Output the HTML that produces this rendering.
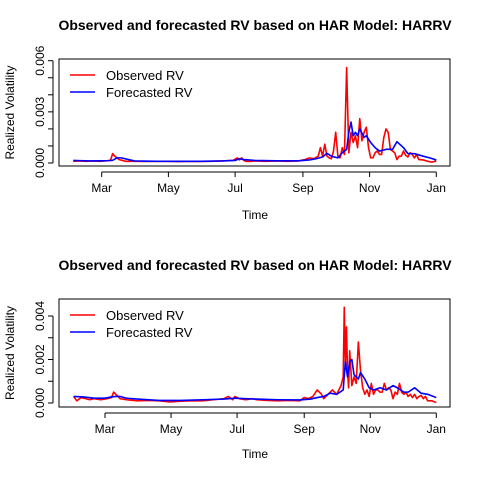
<!DOCTYPE html>
<html><head><meta charset="utf-8"><style>
body{margin:0;background:#fff;font-family:"Liberation Sans",Arial,sans-serif}
svg text{font-family:"Liberation Sans",Arial,sans-serif}
</style></head><body>
<svg id="c" width="480" height="480" xmlns="http://www.w3.org/2000/svg"></svg>
<script>
// x values: day of year; y values: realized volatility
const monthLabels=["Mar","May","Jul","Sep","Nov","Jan"];
const monthDays=[60,121,182,244,305,366];
// Panel 1
const obsDays1=[34,40,46,52,58,64,68,70,72,76,82,90,100,110,120,130,140,150,160,170,180,184,186,188,190,192,196,200,210,220,230,240,246,250,254,258,260,262,264,266,268,270,272,274,276,278,280,282,284,286,288,290,292,294,296,298,300,302,304,306,308,310,312,314,316,318,320,322,324,326,328,330,332,334,336,338,340,342,344,346,348,350,354,358,362,366];
const obsVals1=[0.0001,0.00012,0.0001,0.00012,0.0001,0.00013,0.00015,0.00055,0.0004,0.0002,0.0001,0.0001,0.00009,0.0001,0.0001,0.00008,0.0001,0.00009,0.0001,0.00012,0.00015,0.0003,0.00018,0.0003,0.00015,0.0001,0.00009,0.00012,0.0001,0.00012,0.0001,0.00012,0.0002,0.0003,0.00025,0.0004,0.0009,0.0004,0.0011,0.0004,0.0003,0.00025,0.0007,0.0018,0.0004,0.0003,0.0009,0.0005,0.0056,0.0006,0.0018,0.0012,0.0016,0.0009,0.0026,0.0013,0.0018,0.0021,0.0009,0.0003,0.0003,0.0006,0.0007,0.0005,0.0005,0.0015,0.0020,0.0018,0.0008,0.0007,0.0006,0.0002,0.0004,0.0004,0.0007,0.00045,0.00035,0.0006,0.0005,0.0003,0.0005,0.0002,0.00018,0.0001,0.00005,0.00012];
const fcDays1=[34,40,50,60,66,70,74,78,90,110,130,150,170,182,186,190,200,220,240,250,256,262,266,270,276,280,284,286,288,290,292,294,296,300,302,306,310,314,320,326,330,336,340,346,354,360,366];
const fcVals1=[0.00015,0.00014,0.00012,0.00013,0.00014,0.00016,0.0003,0.0003,0.00012,0.0001,0.0001,0.0001,0.00012,0.00015,0.00025,0.0002,0.00015,0.00013,0.00013,0.00018,0.00025,0.00035,0.00057,0.0004,0.0003,0.0006,0.0008,0.0018,0.0024,0.0016,0.0018,0.0016,0.0020,0.0015,0.0016,0.0012,0.0009,0.0007,0.0008,0.0008,0.00125,0.0009,0.00055,0.00055,0.0004,0.0003,0.00018];
// Panel 2
const obsDays2=[31,34,38,42,46,50,56,62,66,68,70,74,80,90,100,110,120,130,140,150,160,170,174,178,180,184,190,196,200,210,220,230,240,244,248,252,256,260,262,266,270,274,278,280,281,282,283,284,285,286,288,290,292,294,296,298,300,302,304,306,308,310,312,314,316,318,320,322,324,326,328,330,332,334,336,338,340,342,344,346,348,350,352,354,356,358,360,362,366];
const obsVals2=[0.0003,0.0001,0.00025,0.0002,0.00015,0.0002,0.00015,0.0002,0.00025,0.0005,0.0004,0.0002,0.00015,0.0001,0.00012,0.0001,0.00005,0.00008,0.0001,0.0001,0.00015,0.0002,0.0003,0.00015,0.0003,0.0002,0.00015,0.0002,0.00015,0.00012,0.0001,0.00012,0.0001,0.00025,0.0002,0.0003,0.0006,0.0004,0.0002,0.0004,0.0006,0.0004,0.0008,0.0012,0.0044,0.0018,0.0035,0.0015,0.0007,0.0024,0.0008,0.0012,0.0009,0.0028,0.0015,0.0007,0.0004,0.0006,0.0003,0.0009,0.0004,0.0006,0.0006,0.0005,0.0005,0.0009,0.0006,0.0007,0.0006,0.0002,0.0005,0.0004,0.0009,0.0005,0.0004,0.0005,0.0003,0.0004,0.00025,0.0004,0.0002,0.0003,0.00035,0.0002,0.0003,0.0001,0.0001,0.0001,0.00002];
const fcDays2=[31,40,50,60,66,70,74,80,90,110,130,150,170,180,190,200,220,240,250,256,262,268,274,280,282,284,286,288,290,292,294,296,300,304,308,314,320,326,330,336,340,346,352,358,366];
const fcVals2=[0.0003,0.00028,0.00022,0.00022,0.00028,0.0003,0.0003,0.00022,0.00018,0.00012,0.00012,0.00015,0.00018,0.00022,0.0002,0.00018,0.00015,0.00014,0.00018,0.00025,0.0003,0.00045,0.0004,0.0006,0.0019,0.0012,0.0019,0.0020,0.0013,0.0012,0.0011,0.0014,0.0011,0.0007,0.0006,0.0007,0.0006,0.0008,0.0007,0.0005,0.0005,0.0007,0.00045,0.0004,0.00025];
const panels=[
 {y0:57,x0:59,x1:450,yb:166,top:59,dayA:60,pxA:101.7,dayB:366,pxB:436.3,v0:163,vPer:17.05,ticks:[0,0.001,0.002,0.003,0.004,0.005,0.006],labs:["0.000","0.003","0.006"],labVals:[0,0.003,0.006],od:obsDays1,ov:obsVals1,fd:fcDays1,fv:fcVals1,title:30,xl:219},
 {y0:299,x0:59,x1:450,yb:407,top:299,dayA:60,pxA:105,dayB:366,pxB:436.3,v0:403,vPer:21.75,ticks:[0,0.001,0.002,0.003,0.004],labs:["0.000","0.002","0.004"],labVals:[0,0.002,0.004],od:obsDays2,ov:obsVals2,fd:fcDays2,fv:fcVals2,title:270,xl:458}
];
const svg=document.getElementById('c');const NS="http://www.w3.org/2000/svg";
function mk(t,a,txt){const e=document.createElementNS(NS,t);for(const k in a)e.setAttribute(k,a[k]);if(txt!==undefined)e.textContent=txt;svg.appendChild(e);return e;}
panels.forEach((p,i)=>{
 const xs=d=>p.pxA+(d-p.dayA)*(p.pxB-p.pxA)/(p.dayB-p.dayA);
 const ys=v=>p.v0-v*1000*p.vPer;
 let e=mk('text',{x:255,y:p.title,'text-anchor':'middle','font-size':'14','font-weight':'bold'},'Observed and forecasted RV based on HAR Model: HARRV');
 
 
 e=mk('rect',{x:p.x0,y:p.top,width:p.x1-p.x0,height:p.yb-p.top,fill:'none',stroke:'#000','stroke-width':1});
 
 
 // y axis
 const ax=p.x0-6;
 mk('line',{x1:ax,x2:ax,y1:ys(p.ticks[0]),y2:ys(p.ticks[p.ticks.length-1]),stroke:'#000'});
 p.ticks.forEach(v=>mk('line',{x1:ax-5,x2:ax,y1:ys(v),y2:ys(v),stroke:'#000'}));
 p.labVals.forEach((v,j)=>{e=mk('text',{x:0,y:0,transform:`translate(${ax-9},${ys(v)}) rotate(-90)`,'text-anchor':'middle','font-size':'12'},p.labs[j]);
 
 });
 e=mk('text',{x:0,y:0,transform:`translate(14,${(p.top+p.yb)/2}) rotate(-90)`,'text-anchor':'middle','font-size':'12'},'Realized Volatility');
 
 
 // x axis
 const ay=p.yb+6;
 mk('line',{x1:xs(monthDays[0]),x2:xs(monthDays[5]),y1:ay,y2:ay,stroke:'#000'});
 monthDays.forEach((d,j)=>{mk('line',{x1:xs(d),x2:xs(d),y1:ay,y2:ay+5,stroke:'#000'});
 e=mk('text',{x:xs(d),y:ay+20,'text-anchor':'middle','font-size':'12'},monthLabels[j]);
 
 });
 e=mk('text',{x:255,y:p.xl,'text-anchor':'middle','font-size':'12'},'Time');
 
 
 // series
 e=mk('polyline',{points:p.od.map((d,j)=>xs(d)+','+ys(p.ov[j])).join(' '),fill:'none',stroke:'#ff0000','stroke-width':1.6,'stroke-linejoin':'round'});
 
 
 e=mk('polyline',{points:p.fd.map((d,j)=>xs(d)+','+ys(p.fv[j])).join(' '),fill:'none',stroke:'#0000ff','stroke-width':1.6,'stroke-linejoin':'round'});
 
 
 // legend
 const ly=p.top+16;
 mk('line',{x1:70,x2:95,y1:ly,y2:ly,stroke:'#ff0000','stroke-width':1.6});
 e=mk('text',{x:106,y:ly+5,'font-size':'13'},'Observed RV');
 
 
 mk('line',{x1:70,x2:95,y1:ly+17,y2:ly+17,stroke:'#0000ff','stroke-width':1.6});
 e=mk('text',{x:106,y:ly+22,'font-size':'13'},'Forecasted RV');
 
 
});
</script>
</body></html>
